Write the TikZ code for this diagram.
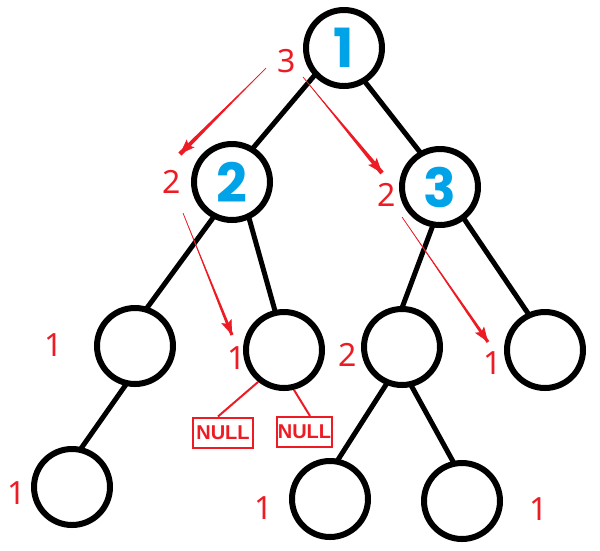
\documentclass[tikz,border=0pt]{standalone}
\usepackage{fontspec}
\setmainfont{Noto Sans}
\newfontfamily\boxfont{Liberation Sans}
\newfontfamily\digitfont{Poppins}
\usetikzlibrary{arrows.meta,calc}
\definecolor{markred}{HTML}{ED1C24}
\definecolor{keyblue}{HTML}{00A2E8}

% tapered red arrow between two named coordinates; #3 is half the width at the head
\newcommand\tracearrow[3]{%
  \fill[markred] (#1) -- ($(#2)!#3!90:(#1)$) -- ($(#2)!#3!-90:(#1)$) -- cycle;
  \draw[markred, line width=0.7pt, -{Stealth[length=15pt,width=11pt,inset=3pt]}] (#1) -- (#2);%
}

\tikzset{
  treenode/.style={circle, draw=black, line width=6pt, minimum size=76pt, inner sep=0pt,
    text=keyblue, font=\digitfont\bfseries\fontsize{54}{54}\selectfont},
  branch/.style={draw=black, line width=5pt, shorten <=-2pt, shorten >=-2pt},
  count/.style={text=markred, font=\fontsize{32}{32}\selectfont, inner sep=0pt},
  nullbox/.style={draw=markred, line width=2pt, text=markred,
    font=\boxfont\bfseries\fontsize{20}{20}\selectfont, minimum height=30pt, inner sep=0pt},
  nullline/.style={draw=markred, line width=2pt},
}

\begin{document}
\begin{tikzpicture}[x=1pt, y=-1pt]
\useasboundingbox (0,0) rectangle (600,550);

% tree nodes
\node[treenode] (n1)  at (344,48)  {1};
\node[treenode] (n2)  at (232,182) {2};
\node[treenode] (n3)  at (440,187) {3};
\node[treenode] (n4)  at (135,346) {};
\node[treenode] (n5)  at (284,350) {};
\node[treenode] (n6)  at (402,347) {};
\node[treenode] (n7)  at (545,350) {};
\node[treenode] (n8)  at (72,487)  {};
\node[treenode] (n9)  at (330,499) {};
\node[treenode] (n10) at (462,501) {};

% branches
\draw[branch] (n1.223) -- (n2.58);
\draw[branch] (n1.302) -- (n3.120);
\draw[branch] (n2.242) -- (n4.72);
\draw[branch] (n2.295) -- (n5.103);
\draw[branch] (n3.259) -- (n6.89);
\draw[branch] (n3.307) -- (n7.115);
\draw[branch] (n4.256) -- (n8.76);
\draw[branch] (n6.247) -- (n9.78);
\draw[branch] (n6.284) -- (n10.103);

% empty children
\node[nullbox, minimum width=60pt] (null1) at (223,432.5) {NULL};
\node[nullbox, minimum width=55pt] (null2) at (304.5,432) {NULL};
\draw[nullline] (n5.231) -- ([xshift=-5pt]null1.north);
\draw[nullline] (n5.284) -- ([xshift=5.5pt]null2.north);

% subtree heights
\node[count] (h1)  at (287,61)  {3};
\node[count] (h2)  at (172,182) {2};
\node[count] (h3)  at (387,195) {2};
\node[count] (h4)  at (54,345)  {1};
\node[count] (h5)  at (237,358) {1};
\node[count] (h6)  at (348,355) {2};
\node[count] (h7)  at (493,363) {1};
\node[count] (h8)  at (17,493)  {1};
\node[count] (h9)  at (264,508) {1};
\node[count] (h10) at (539,509) {1};

% arrow ends
\coordinate (a1s) at (266,68);
\coordinate (a1e) at (180,154);
\coordinate (a2s) at (303,77);
\coordinate (a2e) at (382,173);
\coordinate (a3s) at (183,213);
\coordinate (a3e) at (232,335);
\coordinate (a4s) at (402,217);
\coordinate (a4e) at (488,342);

\tracearrow{a1s}{a1e}{2.2pt}
\tracearrow{a2s}{a2e}{2.2pt}
\tracearrow{a3s}{a3e}{1.6pt}
\tracearrow{a4s}{a4e}{1.6pt}
\end{tikzpicture}
\end{document}
